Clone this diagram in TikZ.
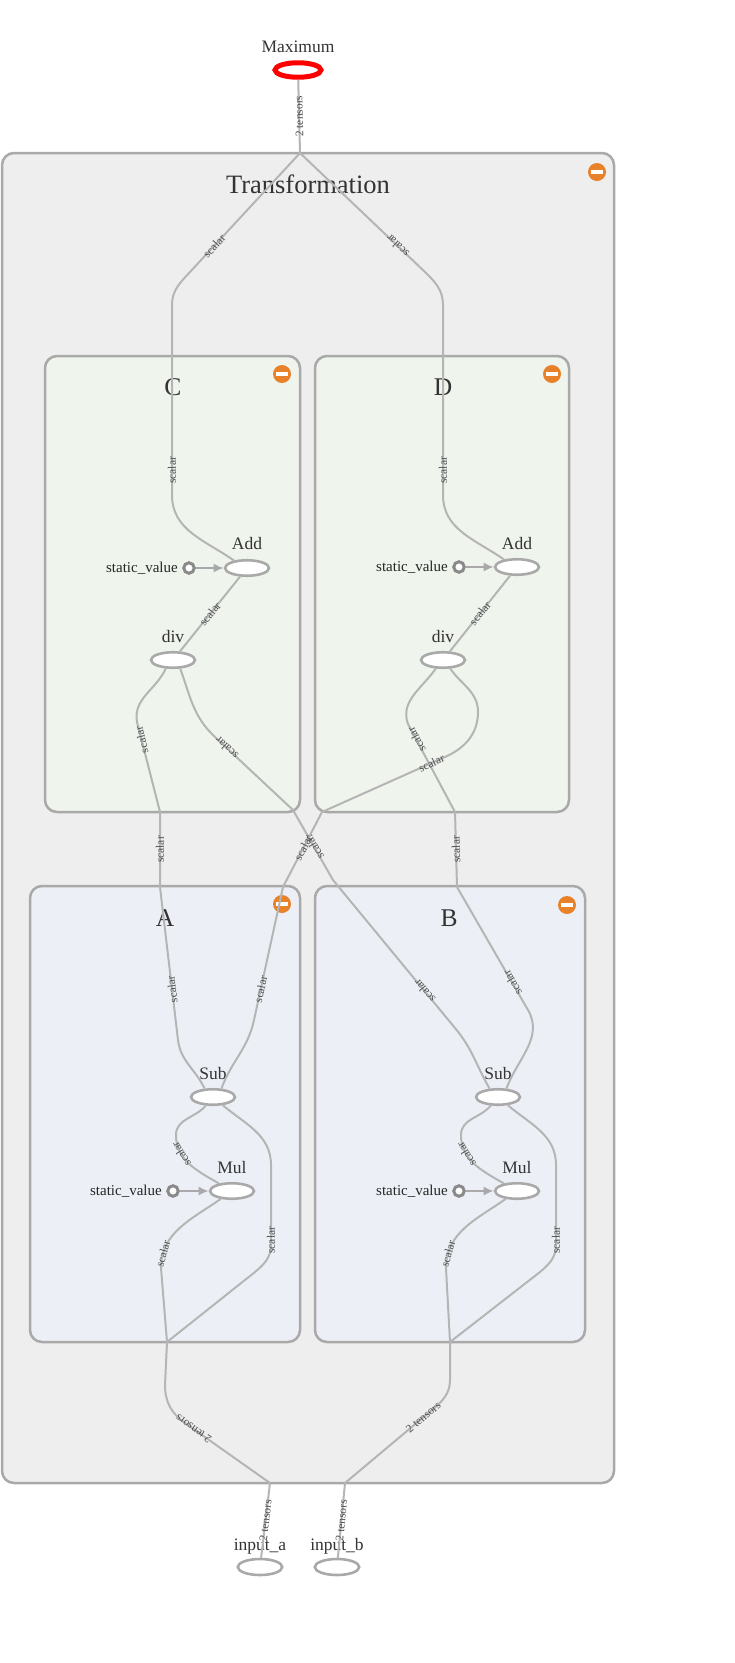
\documentclass[tikz,border=0pt]{standalone}
\usepackage{fontspec}
\setmainfont{Liberation Serif}
\usetikzlibrary{arrows.meta,shapes.geometric}
\definecolor{edgegray}{HTML}{B5B5B5}
\definecolor{framegray}{HTML}{A9A9A9}
\definecolor{outerbg}{HTML}{EEEEEE}
\definecolor{greenbg}{HTML}{EFF4EC}
\definecolor{bluebg}{HTML}{ECF0F6}
\definecolor{btnorange}{HTML}{E8822A}
\definecolor{darktext}{HTML}{333333}
\definecolor{labeltext}{HTML}{4D4D4D}
\definecolor{constgray}{HTML}{8A8A8A}

\begin{document}
\begin{tikzpicture}[x=1pt,y=-1pt,>={Latex[length=10pt,width=9pt]},
  clusterbox/.style={draw=framegray,line width=2.5pt,rounded corners=12pt},
  flow/.style={draw=edgegray,line width=2pt},
  elab/.style={font=\fontsize{11.5}{12}\selectfont,text=labeltext,sloped,allow upside down,inner sep=0pt},
  op/.style={ellipse,draw=framegray,line width=2.6pt,fill=white,minimum width=44pt,minimum height=15.5pt,inner sep=0pt},
  oplab/.style={font=\fontsize{17.5}{20}\selectfont,text=darktext,anchor=base,inner sep=0pt},
  clustertitle/.style={font=\fontsize{25.5}{28}\selectfont,text=darktext,anchor=base,inner sep=0pt},
  constnode/.style={circle,draw=constgray,line width=3pt,fill=white,minimum size=10.5pt,inner sep=0pt},
  constlab/.style={font=\fontsize{15}{17}\selectfont,text=black!85,anchor=base east,inner sep=0pt},
  feed/.style={draw=framegray,line width=2pt,->}]
  \useasboundingbox (0,0) rectangle (735,1663);

  % clusters
  \draw[clusterbox,fill=outerbg] (2,153) rectangle (614,1483);
  \draw[clusterbox,fill=greenbg] (45,356) rectangle (300,812);
  \draw[clusterbox,fill=greenbg] (315,356) rectangle (569,812);
  \draw[clusterbox,fill=bluebg] (30,886) rectangle (300,1342);
  \draw[clusterbox,fill=bluebg] (315,886) rectangle (585,1342);
  \foreach \p in {(597,172),(282,374),(552,374),(282,904),(567,905)}{
    \fill[btnorange] \p circle (9);
    \fill[white] \p ++(-6,-1.6) rectangle ++(12,3.2);
  }
  \node[clustertitle,font=\fontsize{26.5}{30}\selectfont] (ttrans) at (308,193) {Transformation};
  \node[clustertitle] (tC) at (173,395) {C};
  \node[clustertitle] (tD) at (443,395) {D};
  \node[clustertitle] (tA) at (165,926) {A};
  \node[clustertitle] (tB) at (449,926) {B};

  % ops
  \node[op,draw=red,line width=5pt,minimum width=46pt,minimum height=14.5pt] (max) at (298,70) {};
  \node[oplab] (maxlab) at (298,52) {Maximum};

  \node[op] (addC) at (247,568) {};
  \node[oplab] (addClab) at (247,549) {Add};
  \node[constnode] (svC) at (189,568) {};
  \node[constlab] (svClab) at (178,572.5) {static\_value};
  \node[op] (divC) at (173,660) {};
  \node[oplab] (divClab) at (173,642) {div};

  \node[op] (addD) at (517,567) {};
  \node[oplab] (addDlab) at (517,549) {Add};
  \node[constnode] (svD) at (459,567) {};
  \node[constlab] (svDlab) at (448,571.5) {static\_value};
  \node[op] (divD) at (443,660) {};
  \node[oplab] (divDlab) at (443,642) {div};

  \node[op] (subA) at (213,1097) {};
  \node[oplab] (subAlab) at (213,1079) {Sub};
  \node[op] (mulA) at (232,1191) {};
  \node[oplab] (mulAlab) at (232,1173) {Mul};
  \node[constnode] (svA) at (173,1191) {};
  \node[constlab] (svAlab) at (162,1195.5) {static\_value};

  \node[op] (subB) at (498,1097) {};
  \node[oplab] (subBlab) at (498,1079) {Sub};
  \node[op] (mulB) at (517,1191) {};
  \node[oplab] (mulBlab) at (517,1173) {Mul};
  \node[constnode] (svB) at (459,1191) {};
  \node[constlab] (svBlab) at (448,1195.5) {static\_value};

  \node[op,minimum width=44.5pt,minimum height=16pt] (inA) at (260,1567) {};
  \node[oplab] (inAlab) at (260,1550) {input\_a};
  \node[op,minimum width=44.5pt,minimum height=16pt] (inB) at (337,1567) {};
  \node[oplab] (inBlab) at (337,1550) {input\_b};

  \coordinate (tout) at (300,153);
  \coordinate (tinA) at (270,1483);
  \coordinate (tinB) at (345,1483);
  \coordinate (aIn) at (167,1342);
  \coordinate (bIn) at (450,1342);

  % top
  \draw[flow] (tout) -- node[elab]{2 tensors} (max);
  \draw[flow] (addC.150) to[out=145,in=-90] (172,495) -- node[elab,pos=0.13]{scalar} (172,305)
    to[out=90,in=-133] (190,272) -- node[elab,pos=0.22]{scalar} (tout);
  \draw[flow] (addD.150) to[out=145,in=-90] (443,495) -- node[elab,pos=0.13]{scalar} (443,305)
    to[out=90,in=-44] (425,272) -- node[elab,pos=0.22]{scalar} (tout);

  % inside C and D
  \draw[flow] (divC) -- node[elab]{scalar} (addC);
  \draw[flow] (divD) -- node[elab]{scalar} (addD);
  \draw[feed] (svC) -- (addC);
  \draw[feed] (svD) -- (addD);

  % between A/B and C/D
  \draw[flow] (subA.135) to[out=115,in=-83] (178,1040) -- node[elab,pos=0.33]{scalar} (160,887)
    -- node[elab]{scalar} (160,812) -- node[elab,pos=0.8]{scalar} (137,722) to[out=100,in=-115] (divC.-130);
  \draw[flow] (subB.135) to[out=120,in=-50] (455,1028) -- node[elab,pos=0.25]{scalar} (333,880)
    -- node[elab,pos=0.47]{scalar} (293,810) -- node[elab,pos=0.85]{scalar} (215,737) to[out=137,in=-70] (divC.-50);
  \draw[flow] (subB.45) to[out=70,in=-60] (528,1010) -- node[elab,pos=0.22]{scalar} (457,887)
    -- node[elab]{scalar} (455,812) -- node[elab,pos=0.82]{scalar} (408,724) to[out=110,in=-125] (divD.-130);
  \draw[flow] (subA.45) to[out=70,in=-102] (254,1020) -- node[elab,pos=0.23]{scalar} (283,887)
    -- node[elab,pos=0.52]{scalar} (322,812) -- node[elab,pos=0.89]{scalar} (445,757)
    to[out=24,in=-90] (478,712) to[out=90,in=-55] (divD.-50);

  % inside A and B
  \draw[flow] (mulA.150) to[out=150,in=-90] node[elab,pos=0.7]{scalar} (176,1135) to[out=90,in=-130] (subA.-130);
  \draw[flow] (aIn) -- (255,1272) to[out=40,in=-90] (271,1245) -- node[elab,pos=0.06]{scalar} (271,1165)
    to[out=90,in=-40] (subA.-40);
  \draw[flow] (aIn) -- (161,1268) to[out=90,in=-145] node[elab,pos=0.15]{scalar} (mulA.-145);
  \draw[feed] (svA) -- (mulA);

  \draw[flow] (mulB.150) to[out=150,in=-90] node[elab,pos=0.7]{scalar} (461,1135) to[out=90,in=-130] (subB.-130);
  \draw[flow] (bIn) -- (540,1272) to[out=40,in=-90] (556,1245) -- node[elab,pos=0.06]{scalar} (556,1165)
    to[out=90,in=-40] (subB.-40);
  \draw[flow] (bIn) -- (446,1268) to[out=90,in=-145] node[elab,pos=0.15]{scalar} (mulB.-145);
  \draw[feed] (svB) -- (mulB);

  % inputs
  \draw[flow] (tinA) -- node[elab,pos=0.9]{2 tensors} (185,1423) to[out=145,in=-90] (165,1385) -- (aIn);
  \draw[flow] (tinB) -- node[elab,pos=0.9]{2 tensors} (432,1410) to[out=40,in=-90] (450,1380) -- (bIn);
  \draw[flow] (inA) -- node[elab]{2 tensors} (tinA);
  \draw[flow] (inB) -- node[elab]{2 tensors} (tinB);
\end{tikzpicture}
\end{document}
